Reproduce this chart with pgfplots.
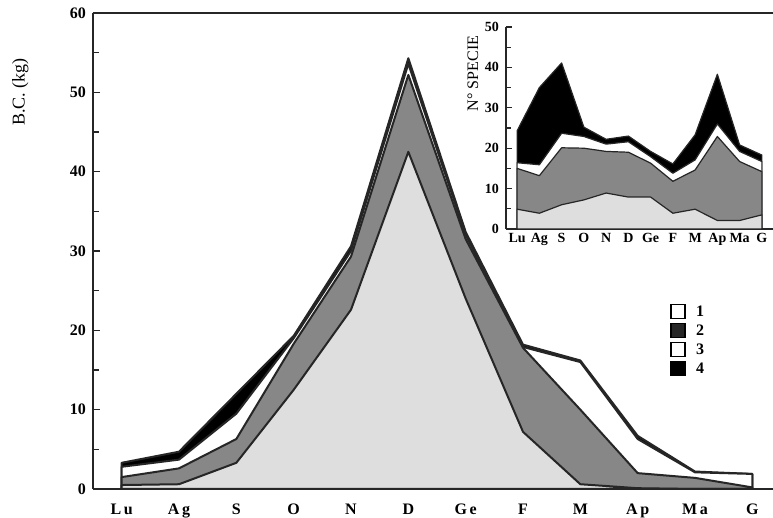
\documentclass[border=0pt]{standalone}
\usepackage{fontspec}
\setmainfont{Liberation Serif}
\usepackage{pgfplots}
\pgfplotsset{compat=1.18}
\definecolor{lightstip}{gray}{0.87}
\definecolor{darkstip}{gray}{0.53}
\definecolor{outl}{gray}{0.15}
\begin{document}
\begin{tikzpicture}
\begin{axis}[
  name=main, at={(0pt,0pt)}, anchor=south west,
  scale only axis, width=340pt, height=238pt,
  xmin=-0.5, xmax=11.36, ymin=0, ymax=60,
  axis x line=box, axis y line=left,
  axis line style={-, line width=0.8pt, black!85},
  xtick={0,...,11},
  xticklabels={{L\,u},{A\,g},S,O,N,D,{G\,e},F,M,{A\,p},{M\,a},G},
  x tick style={draw=none},
  xticklabel style={yshift=-4pt},
  ytick={0,10,...,60}, minor ytick={5,15,...,55},
  tick align=inside, major tick length=3.5pt, minor tick length=3pt,
  y tick style={line width=0.7pt, black!85},
  ticklabel style={font=\fontsize{8}{9}\selectfont\bfseries},
  /pgf/number format/assume math mode=true,
  ylabel={B.C. (kg)},
  every axis y label/.style={at={(axis description cs:-0.107,0.834)}, rotate=90, anchor=center, font=\fontsize{9}{10}\selectfont},
  legend image code/.code={\draw[#1, line width=0.7pt] (0pt,-3.5pt) rectangle (7pt,3.5pt); \path[draw=none, fill=none] (0pt,0pt) -- (12pt,0pt);},
  legend style={at={(axis description cs:0.8485,0.3908)}, anchor=north west, draw=none, fill=none, inner sep=0pt, row sep=1.5pt,
    nodes={inner sep=0.5pt, text height=6pt, text depth=1pt},
    font=\fontsize{8}{9}\selectfont\bfseries},
  legend cell align=left,
]
% layer 4 (cumulative top)
\addplot[forget plot, fill=black, draw=outl, line width=1pt, line join=round] coordinates {
(0,3.3) (1,4.7) (2,12.0) (3,19.3) (4,30.6) (5,54.3) (6,32.4) (7,18.2) (8,16.2) (9,6.7) (10,2.2) (11,1.9)} \closedcycle;
% layer 3
\addplot[forget plot, fill=white, draw=outl, line width=1pt, line join=round] coordinates {
(0,2.8) (1,3.7) (2,9.5) (3,19.0) (4,30.0) (5,53.6) (6,32.0) (7,17.9) (8,16.0) (9,6.3) (10,2.1) (11,1.9)} \closedcycle;
% layer 2
\addplot[forget plot, fill=darkstip, draw=outl, line width=1pt, line join=round] coordinates {
(0,1.5) (1,2.6) (2,6.3) (3,18.3) (4,29.3) (5,52.2) (6,31.5) (7,17.8) (8,10.0) (9,2.0) (10,1.4) (11,0.2)} \closedcycle;
% layer 1
\addplot[forget plot, fill=lightstip, draw=outl, line width=1pt, line join=round] coordinates {
(0,0.5) (1,0.6) (2,3.3) (3,12.5) (4,22.6) (5,42.5) (6,24.0) (7,7.2) (8,0.6) (9,0.1) (10,0) (11,0)} \closedcycle;
\addlegendimage{fill=white, draw=black}
\addlegendentry{1}
\addlegendimage{fill=gray!30!black, draw=black}
\addlegendentry{2}
\addlegendimage{fill=white, draw=black}
\addlegendentry{3}
\addlegendimage{fill=black, draw=black}
\addlegendentry{4}
\end{axis}
\begin{axis}[
  at={(206.5pt,130pt)}, anchor=south west,
  scale only axis, width=133.5pt, height=101pt,
  xmin=-0.5, xmax=11.5, ymin=0, ymax=50,
  axis x line=bottom, axis y line=left,
  axis line style={-, line width=0.6pt, black!85},
  xtick={0,...,11},
  xticklabels={Lu,Ag,S,O,N,D,Ge,F,M,Ap,Ma,G},
  x tick style={draw=none},
  xticklabel style={yshift=1.3pt},
  ytick={0,10,...,50}, minor ytick={5,15,...,45},
  tick align=inside, major tick length=3pt, minor tick length=2.5pt,
  y tick style={line width=0.6pt, black!85},
  ticklabel style={font=\fontsize{7}{8}\selectfont\bfseries},
  /pgf/number format/assume math mode=true,
  ylabel={N° SPECIE},
  every axis y label/.style={at={(axis description cs:-0.1236,0.77)}, rotate=90, anchor=center, font=\fontsize{8}{9}\selectfont},
]
\addplot[fill=black, draw=outl, line width=0.6pt, line join=round] coordinates {
(0,24.3) (1,35.0) (2,41.1) (3,25.2) (4,22.2) (5,23.0) (6,19.2) (7,16.1) (8,23.3) (9,38.3) (10,20.8) (11,18.3)} \closedcycle;
\addplot[fill=white, draw=outl, line width=0.6pt, line join=round] coordinates {
(0,16.4) (1,15.9) (2,23.7) (3,22.9) (4,21.0) (5,21.6) (6,17.9) (7,13.8) (8,17.1) (9,26.0) (10,19.2) (11,16.7)} \closedcycle;
\addplot[fill=darkstip, draw=outl, line width=0.6pt, line join=round] coordinates {
(0,15.0) (1,13.2) (2,20.1) (3,20.0) (4,19.2) (5,19.0) (6,16.3) (7,11.8) (8,14.6) (9,22.9) (10,16.7) (11,14.2)} \closedcycle;
\addplot[fill=lightstip, draw=outl, line width=0.6pt, line join=round] coordinates {
(0,4.9) (1,3.9) (2,6.0) (3,7.2) (4,8.9) (5,7.9) (6,7.9) (7,3.9) (8,4.9) (9,2.1) (10,2.1) (11,3.5)} \closedcycle;
\end{axis}
\pgfresetboundingbox
\path (-46.5pt,-14.5pt) rectangle (340pt,244.5pt);
\end{tikzpicture}
\end{document}
